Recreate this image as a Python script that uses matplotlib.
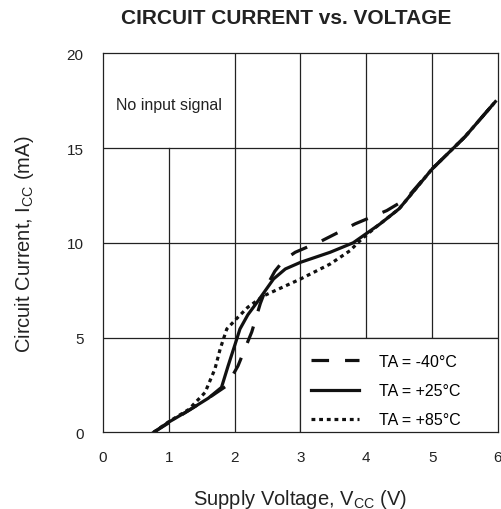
import matplotlib.pyplot as plt
from matplotlib.patches import Rectangle

plt.rcParams['font.family'] = ['Liberation Sans', 'DejaVu Sans']

# supply voltage (V) / circuit current (mA)
v_m40 = [0.77, 1.0, 1.3, 1.6, 1.88, 2.05, 2.26, 2.39, 2.5, 2.61, 2.75, 2.92, 3.32, 3.83, 4.31, 4.6, 5.0, 5.5, 5.96]
i_m40 = [0.0, 0.5, 1.15, 1.8, 2.46, 3.5, 5.3, 6.8, 7.8, 8.5, 9.1, 9.5, 10.1, 11.0, 11.7, 12.3, 13.9, 15.6, 17.45]

v_p25 = [0.77, 1.0, 1.3, 1.6, 1.8, 1.9, 2.03, 2.08, 2.2, 2.34, 2.47, 2.59, 2.77, 3.0, 3.45, 3.8, 4.21, 4.5, 5.0, 5.5, 5.96]
i_p25 = [0.0, 0.54, 1.15, 1.8, 2.37, 3.5, 4.9, 5.45, 6.2, 6.86, 7.5, 8.09, 8.62, 8.97, 9.5, 10.0, 11.0, 11.8, 13.9, 15.6, 17.45]

v_p85 = [0.77, 1.0, 1.3, 1.55, 1.7, 1.78, 1.88, 2.03, 2.2, 2.44, 3.0, 3.45, 3.75, 3.93, 4.11, 4.5, 5.0, 5.5, 5.96]
i_p85 = [0.0, 0.56, 1.2, 2.1, 3.34, 4.4, 5.45, 6.0, 6.6, 7.2, 8.09, 8.88, 9.58, 10.2, 10.73, 11.8, 13.9, 15.6, 17.45]

labels = ['TA = -40°C', 'TA = +25°C', 'TA = +85°C']
x_ticks = [0, 1, 2, 3, 4, 5, 6]
y_ticks = [0, 5, 10, 15, 20]

fig = plt.figure(figsize=(5.01, 5.10), dpi=100)
ax = fig.add_axes([0.2056, 0.1504, 0.7884, 0.7431])
ax.set_xlim(0, 6)
ax.set_ylim(0, 20)

# grid lines (the one at 1 V stops under the note box)
gc = '#222222'
for y in [5, 10, 15]:
    ax.axhline(y, color=gc, lw=0.9, zorder=1)
for x in [2, 3, 4, 5]:
    ax.axvline(x, color=gc, lw=0.9, zorder=1)
ax.plot([1, 1], [0, 15], color=gc, lw=0.9, zorder=1)

ax.plot(v_m40, i_m40, color='#111111', lw=2.3, ls=(0, (5.5, 5.0)), solid_capstyle='butt',
        dash_capstyle='butt', zorder=3, label=labels[0])
ax.plot(v_p25, i_p25, color='#111111', lw=2.3, zorder=3, label=labels[1])
ax.plot(v_p85, i_p85, color='#111111', lw=2.3, ls=(0, (1.2, 1.2)), dash_capstyle='butt',
        zorder=3, label=labels[2])

# legend box in the lower right cell block
ax.add_patch(Rectangle((3, 0), 3, 5, facecolor='white', edgecolor=gc, lw=0.9, zorder=4))
leg = ax.legend(loc='center left', bbox_to_anchor=(3.155, 2.2), bbox_transform=ax.transData,
                frameon=False, fontsize=11.5, handlelength=3.05, labelspacing=0.88,
                handletextpad=1.25, borderpad=0, borderaxespad=0)
leg.set_zorder(5)

ax.text(1, 17.3, 'No input signal', ha='center', va='center', fontsize=11.5, color='#222222')

ax.set_xticks(x_ticks)
ax.set_yticks(y_ticks)
ax.tick_params(length=0, labelsize=11, colors='#222222')
ax.tick_params(axis='x', pad=13)
ax.tick_params(axis='y', pad=14)
for s in ax.spines.values():
    s.set_color(gc)
    s.set_linewidth(0.9)

ax.set_xlabel('Supply Voltage, V$_\\mathregular{CC}$ (V)', fontsize=14.5, labelpad=16, color='#222222')
ax.set_ylabel('Circuit Current, I$_\\mathregular{CC}$ (mA)', fontsize=14.5, labelpad=22, color='#222222')
fig.text(0.571, 0.963, 'CIRCUIT CURRENT vs. VOLTAGE', ha='center', va='center',
         fontsize=15, fontweight='bold', color='#222222')

fig.savefig('out.png', dpi=100)
